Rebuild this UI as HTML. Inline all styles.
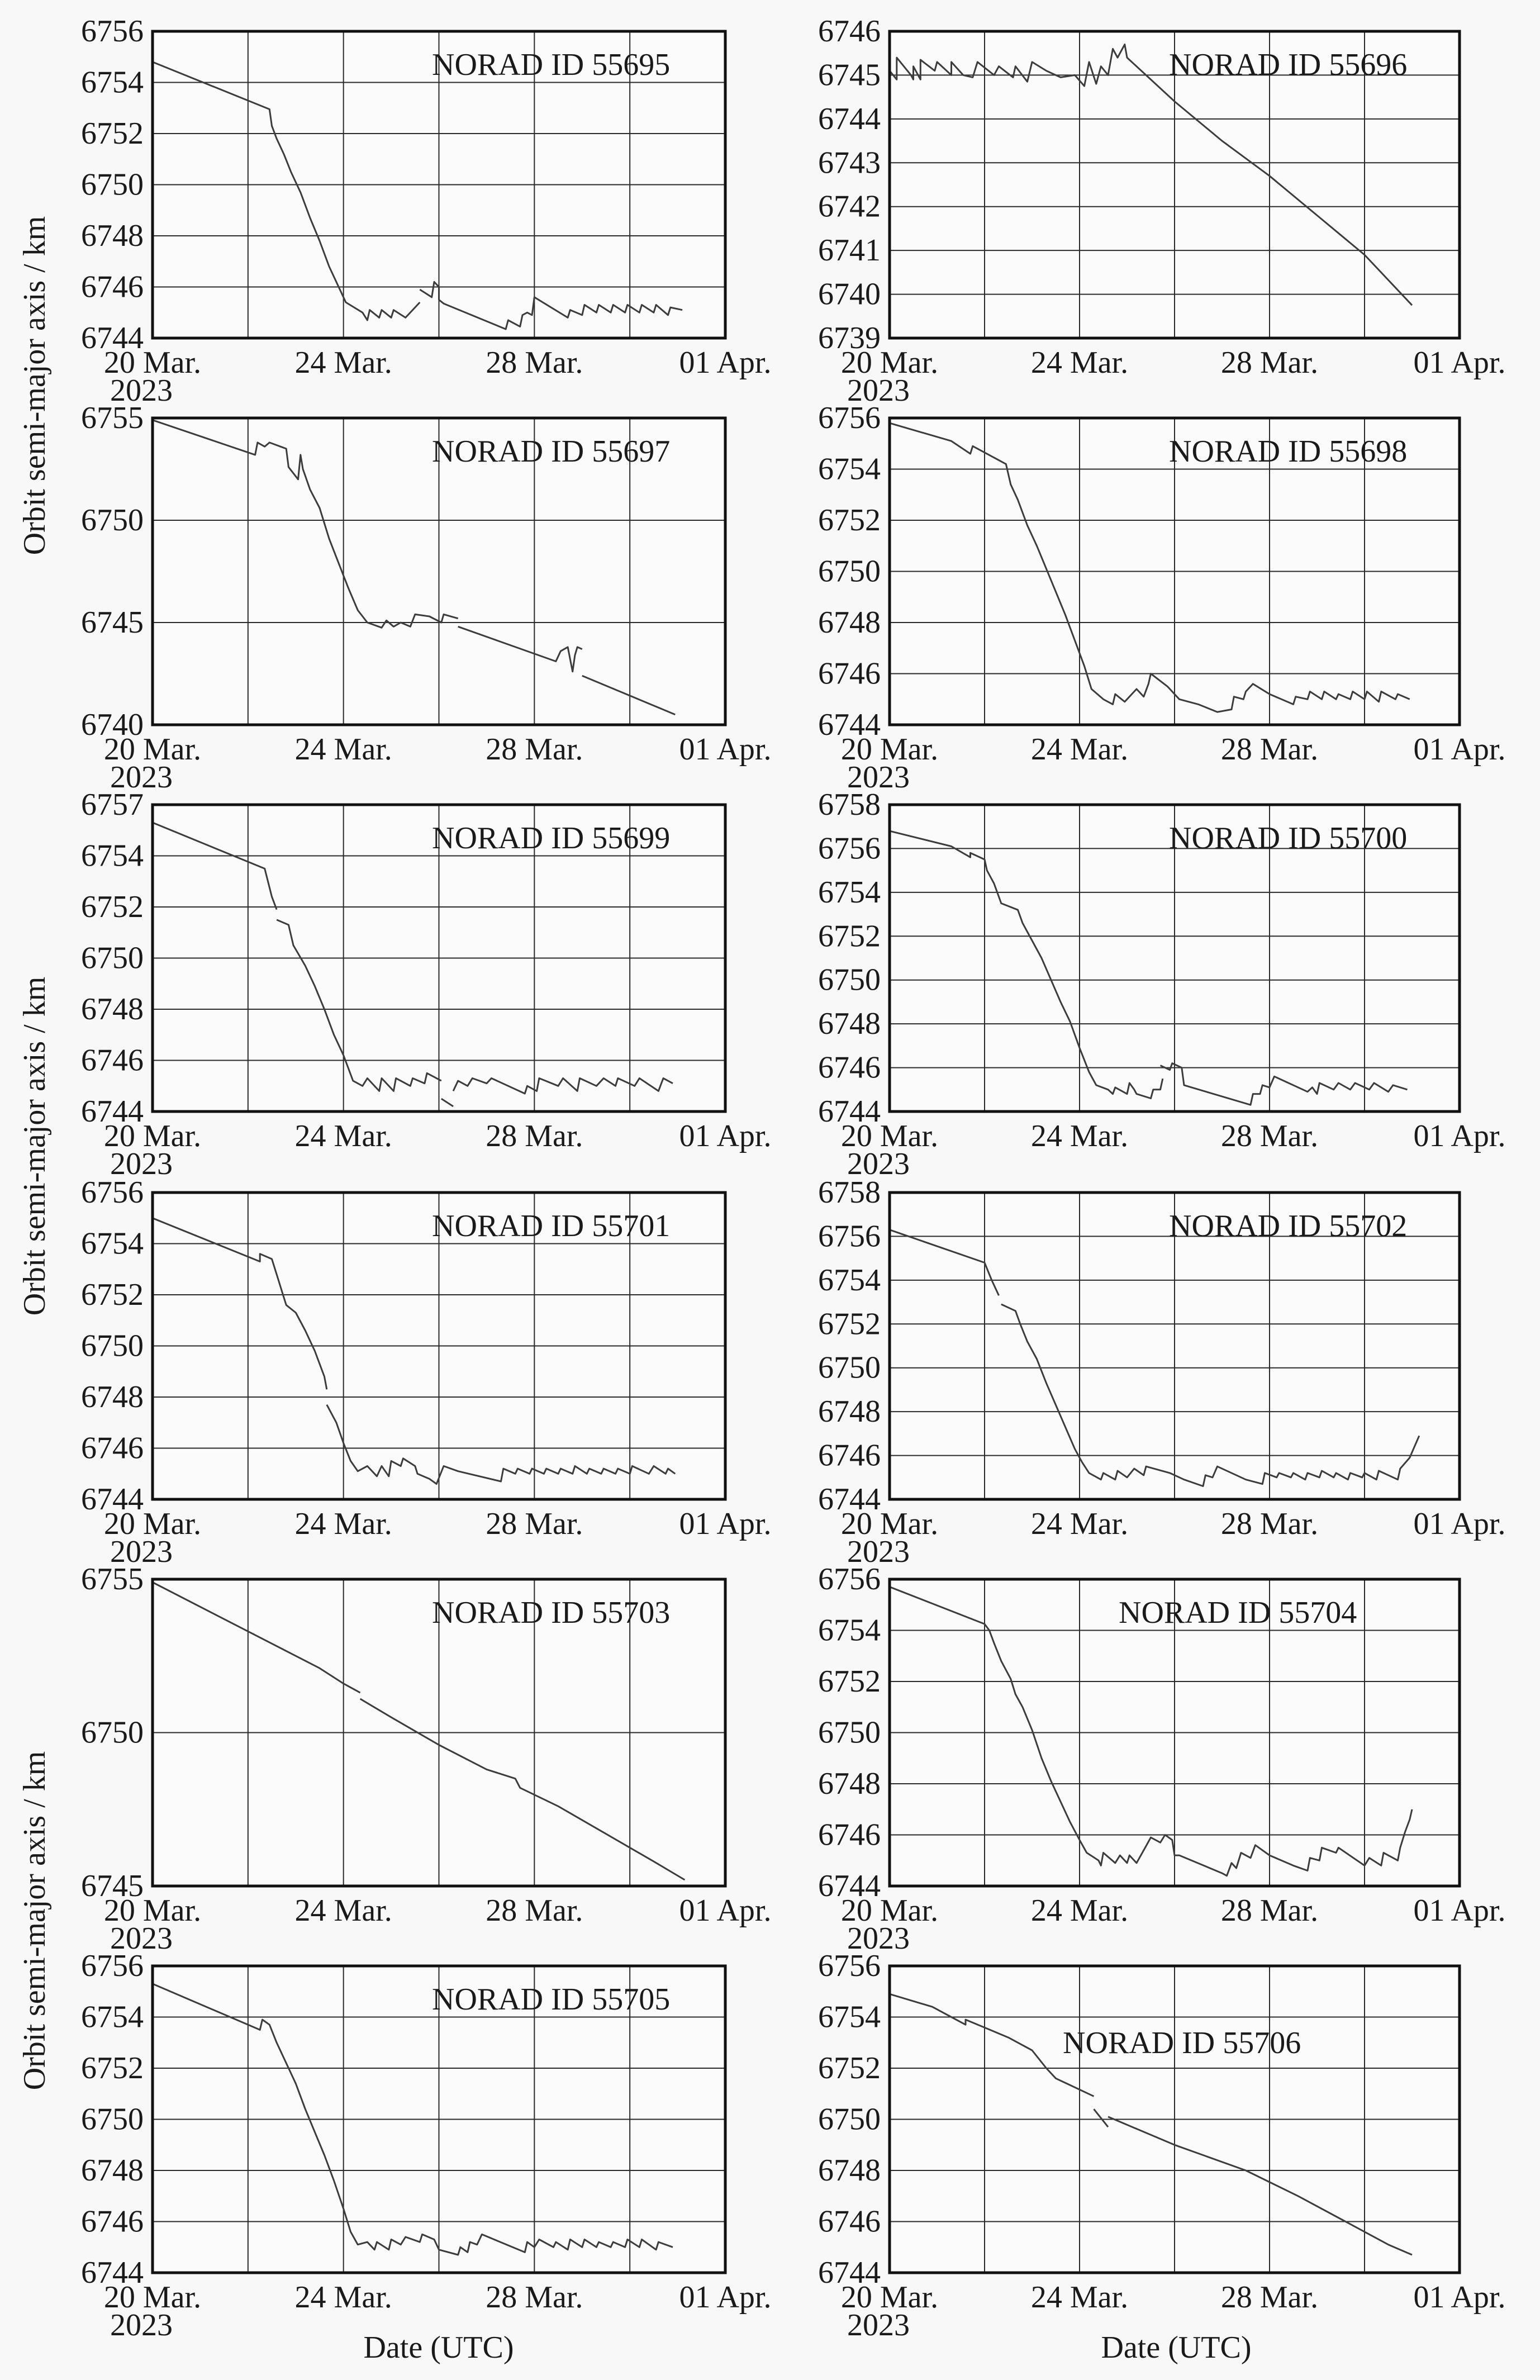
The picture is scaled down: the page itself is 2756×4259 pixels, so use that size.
<!DOCTYPE html>
<html>
<head>
<meta charset="utf-8">
<style>
html,body{margin:0;padding:0;background:#f8f8f8;}
svg{display:block;}
svg text{font-family:"Liberation Serif","Times New Roman",serif;fill:#1a1a1a;}
</style>
</head>
<body>
<svg id="fig" width="2756" height="4259" viewBox="0 0 2756 4259" xmlns="http://www.w3.org/2000/svg" font-family="Liberation Serif, serif">
<rect x="0" y="0" width="2756" height="4259" fill="#f8f8f8"/>
<text font-family="Liberation Serif, serif" transform="translate(80,690) rotate(-90)" text-anchor="middle" font-size="56">Orbit semi-major axis / km</text>
<text font-family="Liberation Serif, serif" transform="translate(80,2051) rotate(-90)" text-anchor="middle" font-size="56">Orbit semi-major axis / km</text>
<text font-family="Liberation Serif, serif" transform="translate(80,3437) rotate(-90)" text-anchor="middle" font-size="56">Orbit semi-major axis / km</text>
<text font-family="Liberation Serif, serif" x="785" y="4219" text-anchor="middle" font-size="56">Date (UTC)</text>
<text font-family="Liberation Serif, serif" x="2105" y="4219" text-anchor="middle" font-size="56">Date (UTC)</text>
</svg>
<script>
// x tick data (days since 20 Mar 2023)
const xTickDays = [0, 4, 8, 12];
const xTickLabels = ["20 Mar.", "24 Mar.", "28 Mar.", "01 Apr."];
const xGridDays = [0, 2, 4, 6, 8, 10, 12];

const noradIds = ["55695","55696","55697","55698","55699","55700","55701","55702","55703","55704","55705","55706"];
const yMins = [6744, 6739, 6740, 6744, 6744, 6744, 6744, 6744, 6745, 6744, 6744, 6744];
const yMaxs = [6756, 6746, 6755, 6756, 6756, 6758, 6756, 6758, 6755, 6756, 6756, 6756];
const yTickValues = [
  [6744,6746,6748,6750,6752,6754,6756],
  [6739,6740,6741,6742,6743,6744,6745,6746],
  [6740,6745,6750,6755],
  [6744,6746,6748,6750,6752,6754,6756],
  [6744,6746,6748,6750,6752,6754,6756],
  [6744,6746,6748,6750,6752,6754,6756,6758],
  [6744,6746,6748,6750,6752,6754,6756],
  [6744,6746,6748,6750,6752,6754,6756,6758],
  [6745,6750,6755],
  [6744,6746,6748,6750,6752,6754,6756],
  [6744,6746,6748,6750,6752,6754,6756],
  [6744,6746,6748,6750,6752,6754,6756]
];
const yTickLabels = [
  ["6744","6746","6748","6750","6752","6754","6756"],
  ["6739","6740","6741","6742","6743","6744","6745","6746"],
  ["6740","6745","6750","6755"],
  ["6744","6746","6748","6750","6752","6754","6756"],
  ["6744","6746","6748","6750","6752","6754","6757"],
  ["6744","6746","6748","6750","6752","6754","6756","6758"],
  ["6744","6746","6748","6750","6752","6754","6756"],
  ["6744","6746","6748","6750","6752","6754","6756","6758"],
  ["6745","6750","6755"],
  ["6744","6746","6748","6750","6752","6754","6756"],
  ["6744","6746","6748","6750","6752","6754","6756"],
  ["6744","6746","6748","6750","6752","6754","6756"]
];

// series: each panel = list of segments, each segment = list of [day, km]
const series55695 = [
 [[0,6754.8],[2.45,6752.95],[2.5,6752.3],[2.6,6751.8],[2.75,6751.2],[2.9,6750.5],[3.1,6749.7],[3.3,6748.7],[3.5,6747.8],[3.7,6746.8],[3.9,6746.0],[4.05,6745.4],[4.4,6745.0],[4.5,6744.7],[4.55,6745.1],[4.75,6744.8],[4.8,6745.1],[5.0,6744.8],[5.05,6745.1],[5.3,6744.8],[5.5,6745.2],[5.6,6745.4]],
 [[5.6,6745.9],[5.85,6745.6],[5.9,6746.2],[6.0,6746.0],[6.0,6745.5],[6.1,6745.35],[7.4,6744.35],[7.45,6744.7],[7.7,6744.45],[7.75,6744.9],[7.85,6745.0],[7.95,6744.9],[8.0,6745.6],[8.7,6744.8],[8.75,6745.1],[9.0,6744.9],[9.05,6745.3],[9.3,6745.0],[9.35,6745.3],[9.6,6745.0],[9.65,6745.3],[9.9,6745.0],[9.95,6745.3],[10.2,6745.0],[10.25,6745.3],[10.5,6745.0],[10.55,6745.3],[10.8,6744.9],[10.85,6745.2],[11.1,6745.1]]
];
const series55696 = [
 [[0,6745.1],[0.15,6744.9],[0.15,6745.4],[0.45,6745.0],[0.5,6744.9],[0.5,6745.2],[0.65,6744.9],[0.65,6745.35],[0.95,6745.1],[1.0,6745.3],[1.3,6745.0],[1.3,6745.3],[1.55,6745.0],[1.75,6744.95],[1.85,6745.3],[2.2,6745.0],[2.3,6745.2],[2.6,6744.95],[2.65,6745.2],[2.9,6744.85],[3.0,6745.3],[3.3,6745.1],[3.6,6744.95],[3.9,6745.0],[4.1,6744.75],[4.2,6745.3],[4.35,6744.8],[4.45,6745.2],[4.6,6745.0],[4.7,6745.6],[4.8,6745.4],[4.95,6745.7],[5.0,6745.4],[6.0,6744.4],[7.0,6743.5],[8.0,6742.7],[9.0,6741.8],[10.0,6740.9],[11.0,6739.75]]
];
const series55697 = [
 [[0,6754.9],[2.15,6753.2],[2.2,6753.8],[2.35,6753.6],[2.45,6753.8],[2.8,6753.5],[2.85,6752.6],[3.05,6752.0],[3.1,6753.2],[3.15,6752.5],[3.3,6751.5],[3.5,6750.6],[3.7,6749.1],[3.9,6747.9],[4.1,6746.7],[4.3,6745.6],[4.5,6745.0],[4.8,6744.75],[4.9,6745.1],[5.05,6744.8],[5.2,6745.0],[5.4,6744.8],[5.5,6745.4],[5.8,6745.3],[6.05,6745.0],[6.1,6745.4],[6.4,6745.2]],
 [[6.4,6744.8],[8.45,6743.1],[8.55,6743.6],[8.7,6743.8],[8.75,6743.2],[8.8,6742.6],[8.85,6743.4],[8.9,6743.8],[9.0,6743.7]],
 [[9.0,6742.4],[10.95,6740.5]]
];
const series55698 = [
 [[0,6755.8],[1.3,6755.1],[1.7,6754.6],[1.75,6754.9],[2.45,6754.2],[2.55,6753.4],[2.7,6752.8],[2.9,6751.8],[3.1,6751.0],[3.3,6750.1],[3.5,6749.2],[3.7,6748.3],[3.9,6747.3],[4.1,6746.3],[4.25,6745.4],[4.5,6745.0],[4.7,6744.8],[4.75,6745.2],[4.95,6744.9],[5.2,6745.4],[5.35,6745.1],[5.45,6745.6],[5.5,6746.0],[5.85,6745.5],[6.1,6745.0],[6.5,6744.8],[6.9,6744.5],[7.2,6744.6],[7.25,6745.1],[7.45,6745.0],[7.5,6745.3],[7.65,6745.6],[8.0,6745.2],[8.5,6744.8],[8.55,6745.1],[8.8,6745.0],[8.85,6745.3],[9.1,6745.0],[9.15,6745.3],[9.4,6745.0],[9.45,6745.2],[9.7,6745.0],[9.75,6745.3],[10.0,6745.0],[10.05,6745.3],[10.3,6744.9],[10.35,6745.3],[10.65,6745.0],[10.7,6745.2],[10.95,6745.0]]
];
const series55699 = [
 [[0,6755.3],[2.35,6753.5],[2.5,6752.4],[2.6,6751.9]],
 [[2.6,6751.5],[2.85,6751.3],[2.95,6750.5],[3.2,6749.7],[3.4,6748.9],[3.6,6748.0],[3.8,6747.0],[4.0,6746.2],[4.2,6745.2],[4.4,6745.0],[4.5,6745.3],[4.75,6744.8],[4.8,6745.3],[5.05,6744.8],[5.1,6745.3],[5.4,6745.0],[5.45,6745.3],[5.7,6745.1],[5.75,6745.5],[6.05,6745.2]],
 [[6.05,6744.5],[6.3,6744.2]],
 [[6.3,6744.8],[6.4,6745.2],[6.6,6745.0],[6.7,6745.3],[7.0,6745.1],[7.1,6745.3],[7.8,6744.7],[7.85,6745.0],[8.05,6744.8],[8.1,6745.3],[8.5,6745.0],[8.6,6745.3],[8.9,6744.8],[8.95,6745.3],[9.3,6745.0],[9.45,6745.3],[9.7,6745.0],[9.75,6745.3],[10.1,6745.0],[10.2,6745.3],[10.6,6744.8],[10.7,6745.3],[10.9,6745.1]]
];
const series55700 = [
 [[0,6756.8],[1.3,6756.1],[1.7,6755.6],[1.7,6755.8],[2.0,6755.5],[2.05,6755.0],[2.2,6754.4],[2.35,6753.5],[2.7,6753.2],[2.8,6752.6],[3.0,6751.8],[3.2,6751.0],[3.4,6750.0],[3.6,6749.0],[3.8,6748.1],[4.0,6746.9],[4.2,6745.8],[4.35,6745.2],[4.6,6745.0],[4.7,6744.8],[4.75,6745.1],[5.0,6744.8],[5.05,6745.3],[5.15,6745.0],[5.2,6744.8],[5.5,6744.6],[5.55,6745.0],[5.7,6745.0],[5.75,6745.5]],
 [[5.7,6746.1],[5.9,6745.9],[5.95,6746.2],[6.15,6746.0],[6.2,6745.2],[7.6,6744.3],[7.65,6744.8],[7.8,6744.8],[7.85,6745.2],[8.0,6745.1],[8.1,6745.6],[8.8,6744.9],[8.9,6745.1],[9.0,6744.8],[9.05,6745.3],[9.35,6745.0],[9.45,6745.3],[9.7,6745.0],[9.8,6745.3],[10.1,6745.0],[10.2,6745.3],[10.5,6744.9],[10.6,6745.2],[10.9,6745.0]]
];
const series55701 = [
 [[0,6755.0],[2.25,6753.3],[2.25,6753.6],[2.5,6753.4],[2.6,6752.8],[2.75,6751.9],[2.8,6751.6],[3.0,6751.3],[3.2,6750.6],[3.4,6749.8],[3.6,6748.8],[3.65,6748.3]],
 [[3.65,6747.7],[3.85,6747.0],[4.0,6746.2],[4.15,6745.5],[4.3,6745.1],[4.5,6745.3],[4.7,6744.9],[4.8,6745.3],[4.95,6744.9],[5.0,6745.5],[5.2,6745.3],[5.25,6745.6],[5.5,6745.3],[5.55,6745.0],[5.8,6744.8],[5.95,6744.6],[6.1,6745.3],[6.4,6745.1],[7.3,6744.7],[7.35,6745.2],[7.6,6745.0],[7.65,6745.2],[7.9,6745.0],[7.95,6745.2],[8.2,6745.0],[8.25,6745.2],[8.5,6745.0],[8.55,6745.2],[8.8,6745.0],[8.85,6745.3],[9.1,6745.0],[9.15,6745.2],[9.4,6745.0],[9.45,6745.2],[9.7,6745.0],[9.75,6745.2],[10.0,6745.0],[10.05,6745.3],[10.4,6745.0],[10.5,6745.3],[10.75,6745.0],[10.8,6745.2],[10.95,6745.0]]
];
const series55702 = [
 [[0,6756.3],[2.0,6754.8],[2.15,6754.0],[2.3,6753.3]],
 [[2.35,6752.9],[2.65,6752.6],[2.75,6752.0],[2.9,6751.2],[3.1,6750.4],[3.3,6749.3],[3.5,6748.3],[3.7,6747.3],[3.9,6746.3],[4.05,6745.7],[4.2,6745.2],[4.45,6744.9],[4.5,6745.2],[4.75,6744.9],[4.8,6745.3],[5.0,6745.0],[5.15,6745.4],[5.35,6745.1],[5.4,6745.5],[5.9,6745.2],[6.2,6744.9],[6.6,6744.6],[6.65,6745.1],[6.8,6745.0],[6.9,6745.5],[7.5,6744.9],[7.85,6744.7],[7.9,6745.2],[8.15,6745.0],[8.2,6745.2],[8.45,6745.0],[8.5,6745.2],[8.75,6744.9],[8.8,6745.2],[9.05,6745.0],[9.1,6745.3],[9.35,6745.0],[9.4,6745.2],[9.65,6744.9],[9.7,6745.2],[9.95,6745.0],[10.0,6745.2],[10.25,6744.9],[10.3,6745.3],[10.7,6744.9],[10.75,6745.4],[10.95,6745.9],[11.05,6746.4],[11.15,6746.9]]
];
const series55703 = [
 [[0,6754.9],[2.0,6753.3],[3.5,6752.1],[4.0,6751.6],[4.35,6751.3]],
 [[4.35,6751.1],[5.0,6750.5],[6.0,6749.6],[7.0,6748.8],[7.6,6748.5],[7.7,6748.2],[8.5,6747.6],[9.5,6746.7],[10.5,6745.8],[11.15,6745.2]]
];
const series55704 = [
 [[0,6755.7],[2.0,6754.25],[2.1,6754.0],[2.2,6753.5],[2.35,6752.8],[2.55,6752.1],[2.65,6751.5],[2.8,6751.0],[3.0,6750.1],[3.2,6749.0],[3.4,6748.1],[3.6,6747.3],[3.8,6746.5],[4.0,6745.8],[4.15,6745.3],[4.4,6745.0],[4.45,6744.8],[4.5,6745.3],[4.75,6744.9],[4.85,6745.2],[5.0,6744.9],[5.05,6745.2],[5.2,6744.9],[5.35,6745.4],[5.5,6745.9],[5.7,6745.7],[5.8,6746.0],[5.95,6745.8],[6.0,6745.2],[6.1,6745.2],[7.0,6744.5],[7.1,6744.4],[7.2,6744.9],[7.3,6744.7],[7.4,6745.3],[7.6,6745.1],[7.7,6745.6],[8.0,6745.2],[8.5,6744.8],[8.8,6744.6],[8.85,6745.1],[9.05,6745.0],[9.1,6745.5],[9.4,6745.3],[9.45,6745.5],[10.0,6744.8],[10.1,6745.1],[10.35,6744.8],[10.4,6745.3],[10.7,6745.0],[10.75,6745.5],[10.85,6746.1],[10.95,6746.6],[11.0,6747.0]]
];
const series55705 = [
 [[0,6755.3],[2.25,6753.5],[2.3,6753.9],[2.45,6753.7],[2.6,6753.0],[2.8,6752.2],[3.0,6751.4],[3.2,6750.4],[3.4,6749.5],[3.6,6748.6],[3.8,6747.6],[4.0,6746.5],[4.15,6745.6],[4.3,6745.1],[4.5,6745.2],[4.65,6744.9],[4.7,6745.2],[4.95,6744.9],[5.0,6745.3],[5.2,6745.1],[5.3,6745.4],[5.6,6745.2],[5.65,6745.5],[5.9,6745.3],[6.0,6744.9],[6.4,6744.7],[6.45,6745.0],[6.6,6744.8],[6.65,6745.2],[6.8,6745.1],[6.9,6745.5],[7.8,6744.8],[7.85,6745.2],[8.0,6745.0],[8.1,6745.3],[8.4,6745.0],[8.45,6745.2],[8.7,6744.9],[8.75,6745.3],[9.0,6745.0],[9.05,6745.3],[9.3,6745.0],[9.35,6745.2],[9.6,6745.0],[9.65,6745.2],[9.9,6745.0],[9.95,6745.3],[10.2,6745.0],[10.25,6745.3],[10.55,6744.9],[10.6,6745.2],[10.9,6745.0]]
];
const series55706 = [
 [[0,6754.9],[0.9,6754.4],[1.3,6754.0],[1.6,6753.7],[1.6,6753.9],[2.5,6753.2],[3.0,6752.7],[3.3,6752.0],[3.5,6751.6],[4.3,6750.9]],
 [[4.3,6750.4],[4.6,6749.7]],
 [[4.6,6750.1],[6.0,6749.0],[7.5,6748.0],[8.6,6747.0],[9.6,6746.0],[10.5,6745.1],[11.0,6744.7]]
];
const allSeries = [series55695,series55696,series55697,series55698,series55699,series55700,series55701,series55702,series55703,series55704,series55705,series55706];

const NS = "http://www.w3.org/2000/svg";
const svg = document.getElementById("fig");
const colLeft = [273, 1592], colRight = [1298, 2612];
const rowTop = [56, 748, 1440, 2134, 2826, 3518];
const plotH = 549;
const FONT = "Liberation Serif, Times New Roman, serif";

function mk(tag, attrs, parent) {
  const el = document.createElementNS(NS, tag);
  for (const k in attrs) el.setAttribute(k, attrs[k]);
  parent.appendChild(el);
  return el;
}

for (let p = 0; p < 12; p++) {
  const col = p % 2, row = Math.floor(p / 2);
  const L = colLeft[col], R = colRight[col], T = rowTop[row], B = T + plotH;
  const xs = d => L + (R - L) * d / 12;
  const ys = v => B - (B - T) * (v - yMins[p]) / (yMaxs[p] - yMins[p]);
  const g = mk("g", {"font-family": FONT}, svg);
  
  
  const bg = mk("rect", {x: L, y: T, width: R - L, height: B - T, fill: "#fbfbfb"}, g);
  
  
  xGridDays.forEach(d => {
    const ln = mk("line", {x1: xs(d), x2: xs(d), y1: T, y2: B, stroke: "#2a2a2a", "stroke-width": 2}, g);
    
    
  });
  yTickValues[p].forEach((v, i) => {
    const ln = mk("line", {x1: L, x2: R, y1: ys(v), y2: ys(v), stroke: "#2a2a2a", "stroke-width": 2}, g);
    
    
    const t = mk("text", {x: L - 16, y: ys(v) + 18, "text-anchor": "end", "font-size": 56, "font-family": FONT}, g);
    t.textContent = yTickLabels[p][i];
    
    
  });
  xTickDays.forEach((d, i) => {
    const t = mk("text", {x: xs(d), y: B + 62, "text-anchor": "middle", "font-size": 56, "font-family": FONT}, g);
    t.textContent = xTickLabels[i];
    
    
  });
  const yr = mk("text", {x: L - 20, y: B + 112, "text-anchor": "middle", "font-size": 56, "font-family": FONT}, g);
  yr.textContent = "2023";
  
  
  allSeries[p].forEach(seg => {
    const pts = seg.map(q => xs(q[0]).toFixed(1) + "," + ys(q[1]).toFixed(1)).join(" ");
    const pl = mk("polyline", {points: pts, fill: "none", stroke: "#3c3c3c", "stroke-width": 3, "stroke-linejoin": "round"}, g);
    
    
  });
  const fr = mk("rect", {x: L, y: T, width: R - L, height: B - T, fill: "none", stroke: "#111", "stroke-width": 5}, g);
  
  
  const special = (p === 11);
  const tx = special ? L + 310 : (p === 9 ? L + 410 : L + 500);
  const ty = special ? T + 156 : T + 78;
  const tt = mk("text", {x: tx, y: ty, "font-size": 56, "font-family": FONT}, g);
  tt.textContent = "NORAD ID " + noradIds[p];
  
  
}
</script>
</body>
</html>
